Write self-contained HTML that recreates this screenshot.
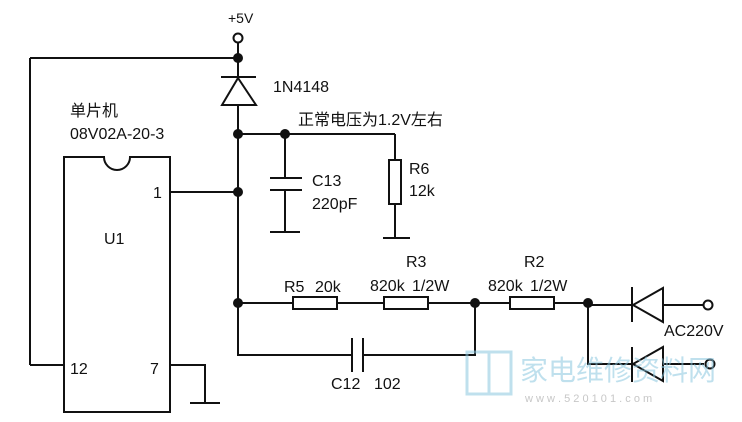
<!DOCTYPE html>
<html><head><meta charset="utf-8"><style>
body{margin:0;background:#fff}
svg{display:block}
text{font-family:"Liberation Sans","Noto Sans CJK SC",sans-serif;fill:#111}
</style></head><body>
<svg width="742" height="422" viewBox="0 0 742 422" xmlns="http://www.w3.org/2000/svg">
<g stroke="#111" stroke-width="2" fill="none">
<circle cx="238" cy="38" r="4.5" fill="#fff"/>
<line x1="238" y1="43" x2="238" y2="300"/>
<polyline points="30,58 238,58"/>
<line x1="30" y1="58" x2="30" y2="365"/>
<line x1="30" y1="365" x2="64" y2="365"/>
<line x1="221" y1="77" x2="256" y2="77"/>
<polygon points="238,78 222,105 256,105" fill="#fff"/>
<line x1="238" y1="134" x2="395" y2="134"/>
<line x1="395" y1="134" x2="395" y2="160"/>
<rect x="389" y="160" width="12" height="44" fill="#fff"/>
<line x1="395" y1="204" x2="395" y2="238"/>
<line x1="383" y1="238" x2="410" y2="238"/>
<line x1="285" y1="134" x2="285" y2="178"/>
<line x1="270" y1="178" x2="302" y2="178"/>
<line x1="270" y1="190" x2="302" y2="190"/>
<line x1="285" y1="190" x2="285" y2="232"/>
<line x1="270" y1="232" x2="300" y2="232"/>
<path d="M64,157 H104 A13,13 0 0 0 130,157 H170 V412 H64 Z"/>
<line x1="170" y1="192" x2="238" y2="192"/>
<polyline points="170,365 205,365 205,403"/>
<line x1="190" y1="403" x2="220" y2="403"/>
<line x1="238" y1="303" x2="588" y2="303"/>
<rect x="293" y="297" width="44" height="12" fill="#fff"/>
<rect x="384" y="297" width="44" height="12" fill="#fff"/>
<rect x="510" y="297" width="44" height="12" fill="#fff"/>
<line x1="588" y1="305" x2="704" y2="305"/>
<line x1="632" y1="287" x2="632" y2="322"/>
<polygon points="633,305 663,288 663,322" fill="#fff"/>
<circle cx="708" cy="305" r="4.5" fill="#fff"/>
<polyline points="588,303 588,364 704,364"/>
<line x1="632" y1="347" x2="632" y2="382"/>
<polygon points="633,364 663,347 663,381" fill="#fff"/>
<circle cx="710" cy="364" r="4.5" fill="#fff"/>
<polyline points="238,300 238,355 352,355"/>
<line x1="352" y1="338" x2="352" y2="372"/>
<line x1="363" y1="338" x2="363" y2="372"/>
<polyline points="363,355 475,355 475,303"/>
</g>
<g fill="#111">
<circle cx="238" cy="58" r="5"/>
<circle cx="238" cy="134" r="5"/>
<circle cx="285" cy="134" r="5"/>
<circle cx="238" cy="192" r="5"/>
<circle cx="238" cy="303" r="5"/>
<circle cx="475" cy="303" r="5"/>
<circle cx="588" cy="303" r="5"/>
</g>
<g font-size="16">
<text x="228" y="23" font-size="14">+5V</text>
<text x="273" y="92">1N4148</text>
<text x="298" y="125">正常电压为1.2V左右</text>
<text x="70" y="116">单片机</text>
<text x="70" y="139">08V02A-20-3</text>
<text x="153" y="198">1</text>
<text x="104" y="244">U1</text>
<text x="70" y="374">12</text>
<text x="150" y="374">7</text>
<text x="312" y="186">C13</text>
<text x="312" y="209">220pF</text>
<text x="409" y="174">R6</text>
<text x="409" y="196">12k</text>
<text x="284" y="292">R5</text>
<text x="315" y="292">20k</text>
<text x="406" y="267">R3</text>
<text x="370" y="291">820k</text>
<text x="412" y="291">1/2W</text>
<text x="524" y="267">R2</text>
<text x="488" y="291">820k</text>
<text x="530" y="291">1/2W</text>
<text x="664" y="336">AC220V</text>
<text x="331" y="389">C12</text>
<text x="374" y="389">102</text>
</g>
<g opacity="0.55">
<rect x="467" y="352" width="22" height="42" fill="none" stroke="#8cc8e0" stroke-width="3"/>
<rect x="489" y="352" width="22" height="42" fill="none" stroke="#8cc8e0" stroke-width="3"/>
<text x="520" y="380" font-size="28" style="fill:#8cc8e0">家电维修资料网</text>
<text x="525" y="402" font-size="11" style="fill:#999">w w w . 5 2 0 1 0 1 . c o m</text>
</g>
</svg>
</body></html>
